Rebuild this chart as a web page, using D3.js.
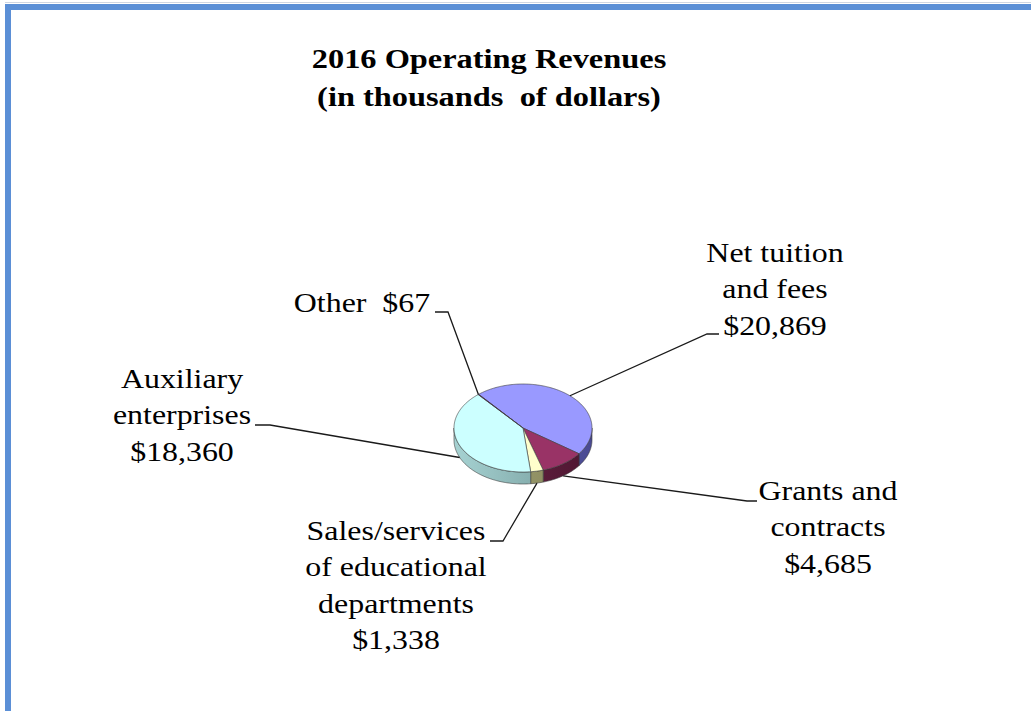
<!DOCTYPE html>
<html>
<head>
<meta charset="utf-8">
<script src="https://cdn.jsdelivr.net/npm/d3@7"></script>
<style>
  body { margin: 0; background: #fff; }
  svg text { font-family: "Liberation Serif", "Times New Roman", serif; fill: #000; white-space: pre; }
</style>
</head>
<body>
<div id="chart"></div>
<script>
// 2016 Operating Revenues - 3D pie, Excel style

// data
var categories = ["Net tuition and fees", "Grants and contracts", "Sales/services of educational departments", "Auxiliary enterprises", "Other"];
var values = [20869, 4685, 1338, 18360, 67];
var labelLines = [
  ["Net tuition", "and fees", "$20,869"],
  ["Grants and", "contracts", "$4,685"],
  ["Sales/services", "of educational", "departments", "$1,338"],
  ["Auxiliary", "enterprises", "$18,360"],
  ["Other  $67"]
];
var titleLines = ["2016 Operating Revenues", "(in thousands  of dollars)"];

// styles
var topColors = ["#9999ff", "#993366", "#ffffcc", "#ccffff", "#660066"];
var wallColors = [["#6666b8", "#4a4a92"], ["#6e2649", "#4e1631"], ["#a3a374", "#85855a"], ["#a6d2d2", "#6f9595"], ["#4d004d", "#330033"]];

// layout of labels: text centre, first baseline, elbow of leader, end of leader
var labelLayout = [
  { x: 775, y: 262, elbow: [707, 334], end: [719, 334] },
  { x: 828, y: 500, elbow: [747, 501], end: [757, 501] },
  { x: 396, y: 540, elbow: [503, 541], end: [490, 541] },
  { x: 182, y: 388, elbow: [270, 425], end: [255, 425] },
  { x: 362, y: 312, elbow: [448, 312], end: [435, 312] }
];

var width = 1031, height = 711;
var pieCx = 523, pieCy = 428, rx = 69, ry = 44, depth = 12;
var startDeg = 320;
var lineH = 36.5;
var sxLabel = 1.16, sxTitle = 1.2;

var svg = d3.select("#chart").append("svg")
    .attr("width", width)
    .attr("height", height);

// frame
svg.append("rect")
    .attr("x", 5).attr("y", 4)
    .attr("width", width).attr("height", height)
    .style("fill", "none")
    .style("stroke", "#5b8fd6")
    .style("stroke-width", 6)
    .attr("transform", "translate(3,3)");
svg.append("line")
    .attr("x1", 5).attr("x2", width).attr("y1", 2.5).attr("y2", 2.5)
    .style("stroke", "#cfd6e2").style("stroke-width", 1);

// title
var title = svg.append("g")
    .attr("transform", "translate(489,68) scale(" + sxTitle + ",1)");
title.append("text")
    .style("font-size", "27px")
    .style("font-weight", "bold")
    .style("text-anchor", "middle")
  .selectAll("tspan")
    .data(titleLines)
  .enter().append("tspan")
    .attr("x", 0)
    .attr("dy", function(d, i) { return i === 0 ? 0 : 38; })
    .text(function(d) { return d; });

// pie
var rad = Math.PI / 180;
var pie = d3.pie()
    .sort(null)
    .startAngle(startDeg * rad)
    .endAngle(startDeg * rad + 2 * Math.PI);

var arcs = pie(values);

function pt(a, dy) {
  return [pieCx + rx * Math.sin(a), pieCy - ry * Math.cos(a) + (dy || 0)];
}

function arcPoints(a0, a1, dy) {
  var n = Math.max(2, Math.ceil(Math.abs(a1 - a0) / (1 * rad)));
  var pts = [];
  for (var i = 0; i <= n; i++) {
    pts.push(pt(a0 + (a1 - a0) * i / n, dy));
  }
  return pts;
}

var line = d3.line();

var defs = svg.append("defs");
wallColors.forEach(function(c, i) {
  var grad = defs.append("linearGradient")
      .attr("id", "wall" + i)
      .attr("gradientUnits", "userSpaceOnUse")
      .attr("x1", pieCx - rx).attr("x2", pieCx + rx)
      .attr("y1", 0).attr("y2", 0);
  grad.append("stop").attr("offset", "0%").attr("stop-color", c[0]);
  grad.append("stop").attr("offset", "100%").attr("stop-color", c[1]);
});

var gPie = svg.append("g");

// walls (front half only)
arcs.forEach(function(d, i) {
  [0, 1].forEach(function(k) {
    var lo = Math.max(d.startAngle, Math.PI / 2 + k * 2 * Math.PI);
    var hi = Math.min(d.endAngle, 3 * Math.PI / 2 + k * 2 * Math.PI);
    if (hi <= lo) return;
    var top = arcPoints(lo, hi, 0);
    var bottom = arcPoints(hi, lo, depth);
    gPie.append("path")
        .attr("d", line(top.concat(bottom)) + "Z")
        .style("fill", "url(#wall" + i + ")")
        .style("stroke", "#3a3a3a")
        .style("stroke-width", 0.6)
        .style("stroke-linejoin", "round");
  });
});

// top faces
gPie.selectAll(".slice")
    .data(arcs)
  .enter().append("path")
    .attr("class", "slice")
    .attr("d", function(d) {
      return line([[pieCx, pieCy]].concat(arcPoints(d.startAngle, d.endAngle, 0))) + "Z";
    })
    .style("fill", function(d, i) { return topColors[i]; })
    .style("stroke", "#3a3a3a")
    .style("stroke-width", 0.6)
    .style("stroke-linejoin", "round");

// leader lines
svg.append("g").selectAll("path")
    .data(arcs)
  .enter().append("path")
    .attr("d", function(d, i) {
      var mid = (d.startAngle + d.endAngle) / 2;
      var p = pt(mid, Math.cos(mid) < 0 ? depth : 0);
      var L = labelLayout[i];
      return line([p, L.elbow, L.end]);
    })
    .style("fill", "none")
    .style("stroke", "#1a1a1a")
    .style("stroke-width", 1.3);

// labels
var labels = svg.append("g").selectAll("g")
    .data(labelLines)
  .enter().append("g")
    .attr("transform", function(d, i) {
      return "translate(" + labelLayout[i].x + "," + labelLayout[i].y + ") scale(" + sxLabel + ",1)";
    });

labels.append("text")
    .style("font-size", "27.5px")
    .style("text-anchor", "middle")
  .selectAll("tspan")
    .data(function(d) { return d; })
  .enter().append("tspan")
    .attr("x", 0)
    .attr("dy", function(d, i) { return i === 0 ? 0 : lineH; })
    .text(function(d) { return d; });
</script>
</body>
</html>
